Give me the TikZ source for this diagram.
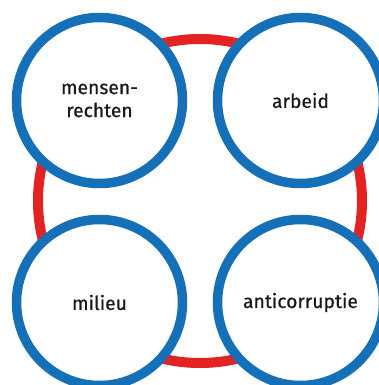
\documentclass[tikz,border=0pt]{standalone}
\usepackage{fontspec}
\setmainfont{Fira Sans}
\newfontfamily\lblfont{Fira Sans}[FakeBold=0.6]
\definecolor{ringred}{HTML}{E32224}
\definecolor{circblue}{HTML}{1570B8}
\begin{document}
\begin{tikzpicture}[x=1pt,y=-1pt,
  topic/.style={circle,draw=circblue,line width=9.5pt,fill=white,minimum size=166pt,inner sep=0pt,align=center,font=\lblfont\fontsize{19.3}{23}\selectfont,text=black!90}]
\useasboundingbox (0,0) rectangle (379,385);
\clip (0,0) rectangle (379,385);
\node[circle,draw=ringred,line width=10pt,minimum size=324pt,inner sep=0pt] (ring) at (200,201) {};
\node[topic] (mr) at (99.5,100.5) {mensen-\\rechten};
\node[topic] (ar) at (300.5,100.5) {arbeid};
\node[topic] (mi) at (99.5,302.5) {milieu};
\node[topic] (ac) at (300.5,302.5) {anticorruptie};
\end{tikzpicture}
\end{document}
